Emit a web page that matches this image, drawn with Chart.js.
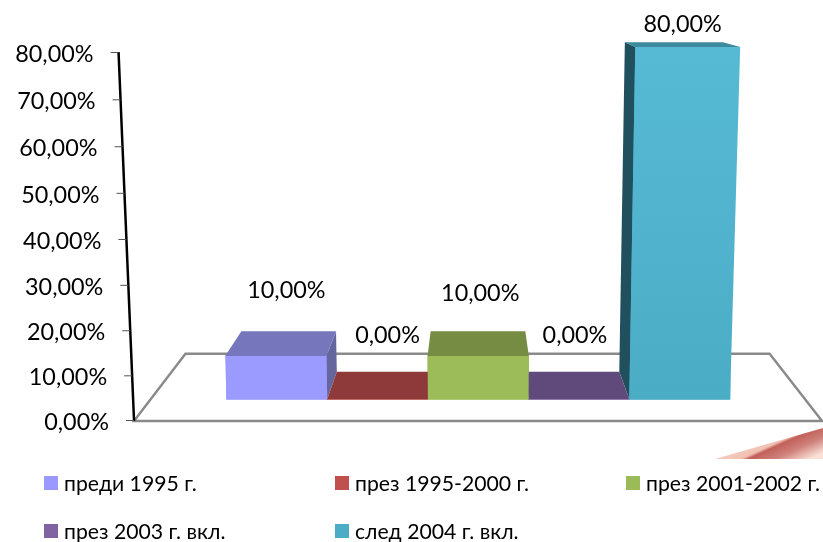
<!DOCTYPE html>
<html lang="bg">
<head>
<meta charset="utf-8">
<title>Chart</title>
<script src="https://cdn.jsdelivr.net/npm/chart.js@4/dist/chart.umd.js"></script>
<style>
    html, body { margin: 0; padding: 0; background: #fff; }
    canvas { display: block; }
</style>
</head>
<body>
<canvas id="chart" width="823" height="542"></canvas>
<script>
const categories = ["преди 1995 г.", "през 1995-2000 г.", "през 2001-2002 г.", "през 2003 г. вкл.", "след 2004 г. вкл."];
const values = [10, 0, 10, 0, 80];
const valueLabels = ["10,00%", "0,00%", "10,00%", "0,00%", "80,00%"];
const tickLabels = ["0,00%", "10,00%", "20,00%", "30,00%", "40,00%", "50,00%", "60,00%", "70,00%", "80,00%"];

const legendColors = ["#9999ff", "#c0504d", "#9bbb59", "#8064a2", "#4bacc6"];
const frontColors = ["#9a9aff", "#c0504d", "#9cbc5a", "#8064a2", "#4bacc6"];
const frontTopColors = ["#9a9aff", "#c0504d", "#9cbc5a", "#8064a2", "#57bad4"];
const topColors = ["#7676bd", "#8e3a3a", "#758c42", "#604a7b", "#3c8a9e"];
const sideColors = ["#66669e", "#7a3230", "#66793a", "#54406c", "#20505e"];

// hand placed data labels, relative to the top of each bar
const labelOffsets = [[9.5, -65.5], [10, -63.5], [2, -62.5], [-4, -63.5], [3, -22.5]];

// one point perspective of the 3d bars
const vanishX = 475;
const vanishY = -24;
const barDepth = 0.065;
const floorDepth = 0.151;
const uprightLean = 0.000119;

const textFont = "Lato, Calibri, sans-serif";

// linear axis with the slight sag of the 3d projection
class TiltedScale extends Chart.LinearScale {
    getPixelForValue(value) {
        const d = (value - this.min) / (this.max - this.min);
        return super.getPixelForValue(value) + (this.options.sag || 0) * 4 * d * (1 - d);
    }
}
TiltedScale.id = "tilted";
TiltedScale.defaults = {};
Chart.register(TiltedScale);

function toBack(p, depth) {
    return { x: p.x + (vanishX - p.x) * depth, y: p.y + (vanishY - p.y) * depth };
}

function lean(x, y, base) {
    return x + (x - vanishX - 12) * uprightLean * (base - y);
}

function fillPoly(ctx, points, color) {
    ctx.fillStyle = color;
    ctx.beginPath();
    points.forEach((p, i) => (i ? ctx.lineTo(p.x, p.y) : ctx.moveTo(p.x, p.y)));
    ctx.closePath();
    ctx.fill();
}

const chart3d = {
    id: "chart3d",
    beforeDatasetsDraw(chart) {
        const ctx = chart.ctx;
        const y0 = chart.scales.y.getPixelForValue(0) + 1;
        const a = { x: 134, y: y0 };
        const b = { x: 822, y: y0 };
        const c = toBack(b, floorDepth);
        const d = toBack(a, floorDepth);
        ctx.save();
        ctx.strokeStyle = "#8a8a8a";
        ctx.lineWidth = 2.4;
        ctx.beginPath();
        ctx.moveTo(a.x, a.y);
        ctx.lineTo(d.x, d.y);
        ctx.lineTo(c.x, c.y);
        ctx.lineTo(b.x, b.y);
        ctx.closePath();
        ctx.stroke();
        ctx.restore();
    },
    afterDatasetsDraw(chart) {
        const ctx = chart.ctx;
        const bars = chart.getDatasetMeta(0).data;
        // outer bars first, the ones facing the viewer go on top
        const order = bars.map((bar, i) => i).sort((p, q) => Math.abs(bars[q].x - vanishX) - Math.abs(bars[p].x - vanishX));
        ctx.save();
        order.forEach((i) => {
            const bar = bars[i];
            const half = bar.width / 2;
            const base = bar.base;
            const fl = { x: bar.x - half, y: base };
            const fr = { x: bar.x + half, y: base };
            const tl = { x: lean(fl.x, bar.y, base), y: bar.y };
            const tr = { x: lean(fr.x, bar.y, base), y: bar.y };
            const bl = toBack(tl, barDepth);
            const br = toBack(tr, barDepth);
            if (fr.x < vanishX && bar.y < base) {
                fillPoly(ctx, [fr, tr, br, toBack(fr, barDepth)], sideColors[i]);
            }
            if (fl.x > vanishX && bar.y < base) {
                fillPoly(ctx, [fl, tl, bl, toBack(fl, barDepth)], sideColors[i]);
            }
            fillPoly(ctx, [tl, tr, br, bl], topColors[i]);
            if (bar.y < base) {
                const grad = ctx.createLinearGradient(0, bar.y, 0, base);
                grad.addColorStop(0, frontTopColors[i]);
                grad.addColorStop(1, frontColors[i]);
                fillPoly(ctx, [fl, fr, tr, tl], grad);
            }
        });
        ctx.fillStyle = "#000";
        ctx.font = "23.4px " + textFont;
        ctx.textAlign = "center";
        ctx.textBaseline = "middle";
        bars.forEach((bar, i) => {
            ctx.fillText(valueLabels[i], bar.x + labelOffsets[i][0], bar.y + labelOffsets[i][1]);
        });
        ctx.restore();
    },
    afterDraw(chart) {
        const ctx = chart.ctx;
        const yScale = chart.scales.y;
        const axisX = (y) => 134 - (yScale.getPixelForValue(0) - y) * 0.042;
        const top = yScale.getPixelForValue(80);
        const bottom = yScale.getPixelForValue(0) + 1;
        ctx.save();
        ctx.strokeStyle = "#000";
        ctx.lineWidth = 2.5;
        ctx.beginPath();
        ctx.moveTo(axisX(top), top);
        ctx.lineTo(axisX(bottom), bottom);
        ctx.stroke();

        ctx.font = "23.4px " + textFont;
        ctx.textAlign = "right";
        ctx.textBaseline = "middle";
        yScale.ticks.forEach((tick) => {
            const y = yScale.getPixelForValue(tick.value);
            ctx.strokeStyle = "#555";
            ctx.lineWidth = 1;
            ctx.beginPath();
            ctx.moveTo(axisX(y) - 8, y + 0.5);
            ctx.lineTo(axisX(y), y + 0.5);
            ctx.stroke();
            ctx.fillStyle = "#000";
            ctx.fillText(tick.label, axisX(y) - 25, y + 2.5);
        });

        // legend in three fixed columns
        const columns = [44, 335, 626];
        const rows = [476, 524];
        ctx.font = "21.2px " + textFont;
        ctx.textAlign = "left";
        categories.forEach((name, i) => {
            const x = columns[i % 3];
            const y = rows[Math.floor(i / 3)];
            ctx.fillStyle = legendColors[i];
            ctx.fillRect(x, y, 14, 14);
            ctx.fillStyle = "#000";
            ctx.fillText(name, x + 20, y + 8);
        });

        // corner of the slide background
        const wedge = ctx.createLinearGradient(770, 437, 785, 470);
        wedge.addColorStop(0, "#f3c8ba");
        wedge.addColorStop(0.22, "#f0c0b2");
        wedge.addColorStop(0.3, "#c2605a");
        wedge.addColorStop(0.6, "#cf807a");
        wedge.addColorStop(1, "#f9dfd4");
        fillPoly(ctx, [{ x: 715, y: 459 }, { x: 823, y: 428 }, { x: 823, y: 459 }], wedge);
        ctx.restore();
    }
};

new Chart(document.getElementById("chart").getContext("2d"), {
    type: "bar",
    data: {
        labels: categories,
        datasets: [{
            data: values,
            yAxisID: "yBars",
            backgroundColor: frontColors,
            borderWidth: 0,
            barPercentage: 1,
            categoryPercentage: 1,
            clip: false
        }]
    },
    options: {
        responsive: false,
        animation: false,
        layout: { padding: { left: 226.5, right: 93, top: 52, bottom: 122 } },
        plugins: {
            legend: { display: false },
            title: { display: false },
            tooltip: { enabled: false }
        },
        scales: {
            x: { display: false },
            y: {
                type: "tilted",
                display: false,
                sag: 3,
                min: 0,
                max: 80,
                ticks: { stepSize: 10, callback: (value, i) => tickLabels[i] }
            },
            yBars: {
                type: "tilted",
                display: false,
                sag: 1.5,
                min: -4.77,
                max: 78.87
            }
        }
    },
    plugins: [chart3d]
});
</script>
</body>
</html>
